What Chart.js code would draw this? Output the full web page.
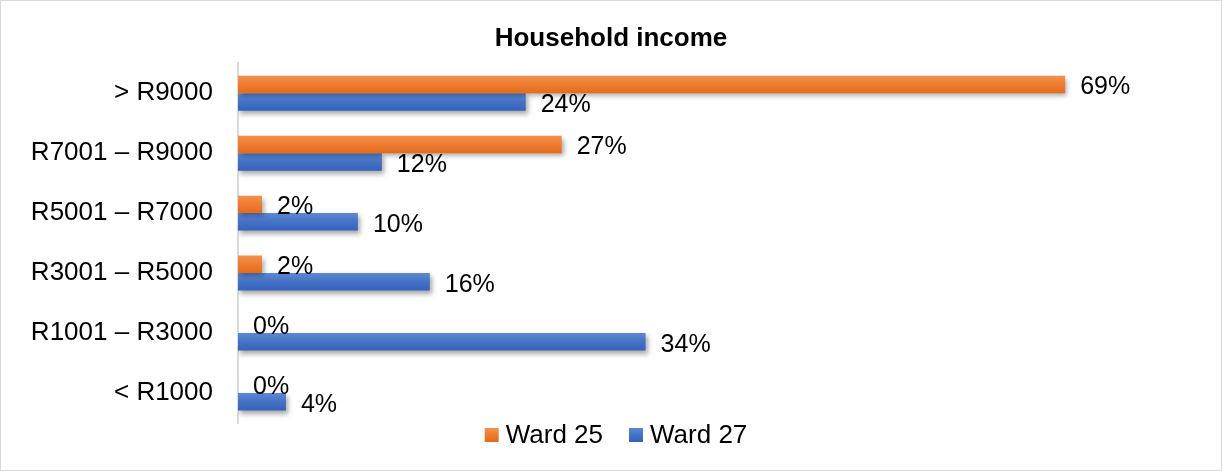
<!DOCTYPE html>
<html>
<head>
<meta charset="utf-8">
<title>Household income</title>
<script src="https://cdn.jsdelivr.net/npm/chart.js@4.4.1/dist/chart.umd.min.js"></script>
<style>
  html, body { margin: 0; padding: 0; background: #fff; }
  #frame { width: 1222px; height: 471px; box-sizing: border-box; border: 1px solid #d9d9d9; position: relative; }
</style>
</head>
<body>
<div id="frame"><canvas id="income"></canvas></div>
<script>
const categories = ["> R9000", "R7001 – R9000", "R5001 – R7000", "R3001 – R5000", "R1001 – R3000", "< R1000"];
const ward25 = [69, 27, 2, 2, 0, 0];
const ward27 = [24, 12, 10, 16, 34, 4];
const seriesNames = ["Ward 25", "Ward 27"];

const FONT = "'Liberation Sans', Arial, sans-serif";
const CAT_PCT = 35 / 60;

// light-to-dark vertical fill for each series
const shades = [
    ["#f4914f", "#ee7b30", "#e56b1a"],
    ["#5d88d6", "#4472c4", "#3462bd"]
];

function fade(ctx, y0, y1, stops) {
    const g = ctx.createLinearGradient(0, y0, 0, y1);
    g.addColorStop(0, stops[0]);
    g.addColorStop(0.5, stops[1]);
    g.addColorStop(1, stops[2]);
    return g;
}

function barFill(context) {
    const chart = context.chart;
    const stops = shades[context.datasetIndex];
    const yScale = chart.scales.y;
    if (!chart.chartArea || !yScale || context.dataIndex === undefined) return stops[1];
    const band = (chart.chartArea.bottom - chart.chartArea.top) / categories.length;
    const size = band * CAT_PCT / 2;
    const mid = yScale.getPixelForValue(context.dataIndex);
    const top = mid - size + context.datasetIndex * size;
    return fade(chart.ctx, top, top + size, stops);
}

// soft drop shadow under the bars, then the value labels
const barDecor = {
    id: 'barDecor',
    beforeDatasetsDraw(chart) {
        const ctx = chart.ctx;
        ctx.save();
        ctx.shadowColor = 'rgba(0,0,0,0.35)';
        ctx.shadowBlur = 5;
        ctx.shadowOffsetX = 2;
        ctx.shadowOffsetY = 3;
    },
    afterDatasetsDraw(chart) {
        const ctx = chart.ctx;
        ctx.restore();
        ctx.save();
        ctx.font = "25px " + FONT;
        ctx.fillStyle = '#000';
        ctx.textBaseline = 'middle';
        chart.data.datasets.forEach((ds, i) => {
            chart.getDatasetMeta(i).data.forEach((bar, j) => {
                ctx.fillText(ds.data[j] + '%', bar.x + 15, bar.y + 3);
            });
        });
        ctx.restore();
    }
};

// legend row under the plot
const legendRow = {
    id: 'legendRow',
    afterDraw(chart) {
        const ctx = chart.ctx;
        const box = 14, gap = 7, spacing = 26;
        ctx.save();
        ctx.font = "26px " + FONT;
        ctx.textBaseline = 'middle';
        const items = chart.data.datasets.map((ds, i) => ({
            text: ds.label,
            stops: shades[i],
            w: box + gap + ctx.measureText(ds.label).width
        }));
        const total = items.reduce((s, it) => s + it.w, 0) + spacing * (items.length - 1);
        let x = (chart.width - total) / 2 + 5;
        const y = chart.chartArea.bottom + 12;
        items.forEach(it => {
            ctx.fillStyle = fade(ctx, y - box / 2, y + box / 2, it.stops);
            ctx.fillRect(x, y - box / 2, box, box);
            ctx.fillStyle = '#000';
            ctx.fillText(it.text, x + box + gap, y + 1);
            x += it.w + spacing;
        });
        ctx.restore();
    }
};

Chart.defaults.font.family = FONT;

const incomeChart = new Chart(document.getElementById("income"), {
    type: 'bar',
    data: {
        labels: categories,
        datasets: [
            {
                label: seriesNames[0],
                data: ward25,
                backgroundColor: barFill,
                borderWidth: 0,
                categoryPercentage: CAT_PCT,
                barPercentage: 1
            },
            {
                label: seriesNames[1],
                data: ward27,
                backgroundColor: barFill,
                borderWidth: 0,
                categoryPercentage: CAT_PCT,
                barPercentage: 1
            }
        ]
    },
    options: {
        indexAxis: 'y',
        responsive: true,
        maintainAspectRatio: false,
        animation: false,
        layout: {
            padding: { left: 0, right: 0, top: 0, bottom: 47 }
        },
        scales: {
            x: {
                display: false,
                min: 0,
                max: 82
            },
            y: {
                grid: { display: false, drawTicks: false },
                border: { display: true, color: '#d9d9d9', width: 2 },
                ticks: {
                    color: '#000',
                    font: { size: 26 },
                    padding: 25
                },
                afterFit(scale) {
                    scale.width = 237;
                }
            }
        },
        plugins: {
            title: {
                display: true,
                text: 'Household income',
                color: '#000',
                font: { size: 26, weight: 'bold' },
                padding: { top: 22, bottom: 9 }
            },
            legend: { display: false },
            tooltip: { enabled: false }
        }
    },
    plugins: [barDecor, legendRow]
});
</script>
</body>
</html>
